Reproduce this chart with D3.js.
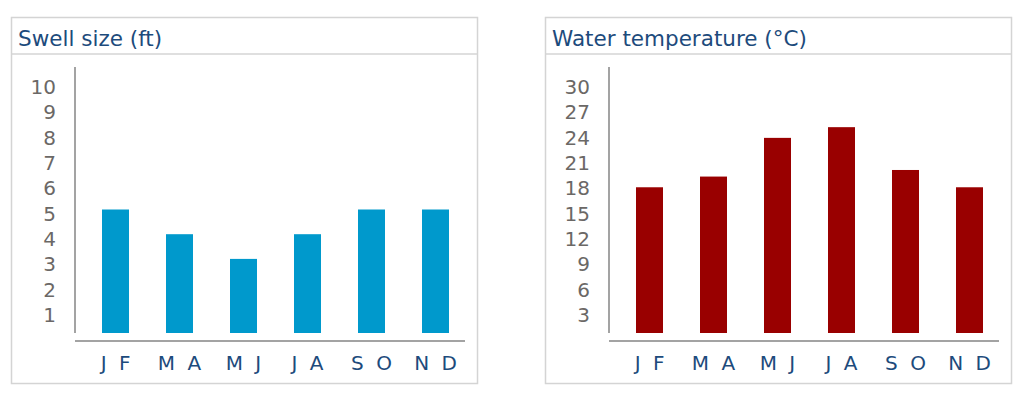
<!DOCTYPE html>
<html>
<head>
<meta charset="utf-8">
<script src="https://cdn.jsdelivr.net/npm/d3@7"></script>
<style>
  html, body { margin: 0; padding: 0; background: #fff; }
  svg { display: block; font-family: "DejaVu Sans", Verdana, sans-serif; }
</style>
</head>
<body>
<svg id="chart" width="1024" height="402"></svg>
<script>
const categories = ["J F", "M A", "M J", "J A", "S O", "N D"];
const swellValues = [5, 4, 3, 4, 5, 5];
const swellTicks = [1, 2, 3, 4, 5, 6, 7, 8, 9, 10];
const tempValues = [17.7, 19, 23.7, 25, 19.8, 17.7];
const tempTicks = [3, 6, 9, 12, 15, 18, 21, 24, 27, 30];

const panels = [
  { title: "Swell size (ft)", values: swellValues, ticks: swellTicks, max: 10, color: "#0099cc", x0: 11 },
  { title: "Water temperature (°C)", values: tempValues, ticks: tempTicks, max: 30, color: "#990000", x0: 545 }
];

const svg = d3.select("#chart");

panels.forEach(p => {
  const g = svg.append("g").attr("transform", `translate(${p.x0},0)`);
  g.append("rect").attr("x", 0.5).attr("y", 17.5).attr("width", 466).attr("height", 366)
    .attr("fill", "#fff").attr("stroke", "#d4d4d4").attr("stroke-width", 1.5);
  g.append("line").attr("x1", 0.5).attr("x2", 466.5).attr("y1", 54).attr("y2", 54)
    .attr("stroke", "#d4d4d4").attr("stroke-width", 1.5);
  g.append("text").attr("x", 7).attr("y", 45.5).text(p.title)
    .attr("font-size", 21.5).attr("fill", "#1d4b7c");

  const axisX = 64;
  const x = d3.scaleBand().domain(categories)
    .range([72.5, 456.5])
    .paddingInner(1 - 27 / 64)
    .paddingOuter((1 - 27 / 64) / 2);
  const y = d3.scaleLinear().domain([0, p.max]).range([333, 86]);
  const yLab = d3.scaleLinear().domain([0, p.max]).range([340.5, 87]);

  g.selectAll("rect.bar").data(p.values).enter().append("rect").attr("class", "bar")
    .attr("x", (d, i) => x(categories[i]))
    .attr("width", x.bandwidth())
    .attr("y", d => y(d))
    .attr("height", d => y(0) - y(d))
    .attr("fill", p.color);

  g.append("line").attr("x1", axisX).attr("x2", axisX).attr("y1", 67).attr("y2", 333)
    .attr("stroke", "#a3a3a3").attr("stroke-width", 2);
  g.append("line").attr("x1", axisX).attr("x2", 454).attr("y1", 341).attr("y2", 341)
    .attr("stroke", "#a3a3a3").attr("stroke-width", 2);

  const ya = g.append("g").attr("transform", `translate(${axisX},0)`)
    .call(d3.axisLeft(yLab).tickValues(p.ticks).tickSize(0).tickPadding(19).tickFormat(d3.format("d")));
  ya.select(".domain").remove();
  ya.selectAll("text").attr("font-size", 20).attr("fill", "#6b6866")
    .attr("font-family", "'DejaVu Sans', Verdana, sans-serif");

  const xa = g.append("g").attr("transform", `translate(0,341)`)
    .call(d3.axisBottom(x).tickSize(0).tickPadding(14.5));
  xa.select(".domain").remove();
  xa.selectAll("text").attr("font-size", 20).attr("fill", "#1d4b7c")
    .attr("font-family", "'DejaVu Sans', Verdana, sans-serif")
    .attr("letter-spacing", 3).attr("dx", 1.5);
});
</script>
</body>
</html>
